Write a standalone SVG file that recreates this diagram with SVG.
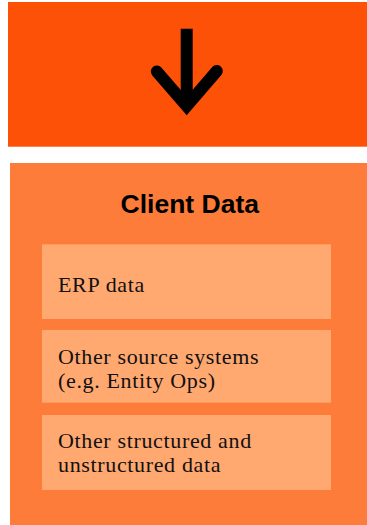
<svg xmlns="http://www.w3.org/2000/svg" width="367" height="525" viewBox="0 0 367 525">
<style>
.item{fill:#FFA870}
.txt{font-family:"Liberation Serif","Times New Roman",serif;font-size:22px;letter-spacing:0.65px;fill:#111}
.title{font-family:"Liberation Sans",Arial,sans-serif;font-size:26.5px;font-weight:bold;fill:#000}
</style>
<rect x="0" y="0" width="367" height="525" fill="#fff"/>
<g id="arrow-banner">
<rect x="8" y="2" width="359" height="144.7" fill="#FD5108"/>
<g id="connectors">
<line x1="186.7" y1="28.7" x2="186.7" y2="106" stroke="#000" stroke-width="12"/>
<polyline points="156.8,71.5 186.7,106 216.8,71" fill="none" stroke="#000" stroke-width="12" stroke-linecap="round" stroke-linejoin="miter" stroke-miterlimit="10"/>
</g>
</g>
<g id="client-data">
<rect x="10" y="163" width="357" height="362" fill="#FE7C39"/>
<text class="title" x="189.8" y="213" text-anchor="middle">Client Data</text>
</g>
<g id="erp-data">
<rect class="item" x="42" y="244.3" width="289" height="74.7"/>
<text class="txt" x="58" y="291.7">ERP data</text>
</g>
<g id="other-source-systems">
<rect class="item" x="42" y="330" width="289" height="72.7"/>
<text class="txt" x="58" y="363.5">Other source systems</text>
<text class="txt" x="58" y="387.5">(e.g. Entity Ops)</text>
</g>
<g id="other-data">
<rect class="item" x="42" y="415" width="289" height="75"/>
<text class="txt" x="58" y="448">Other structured and</text>
<text class="txt" x="58" y="472">unstructured data</text>
</g>
</svg>
